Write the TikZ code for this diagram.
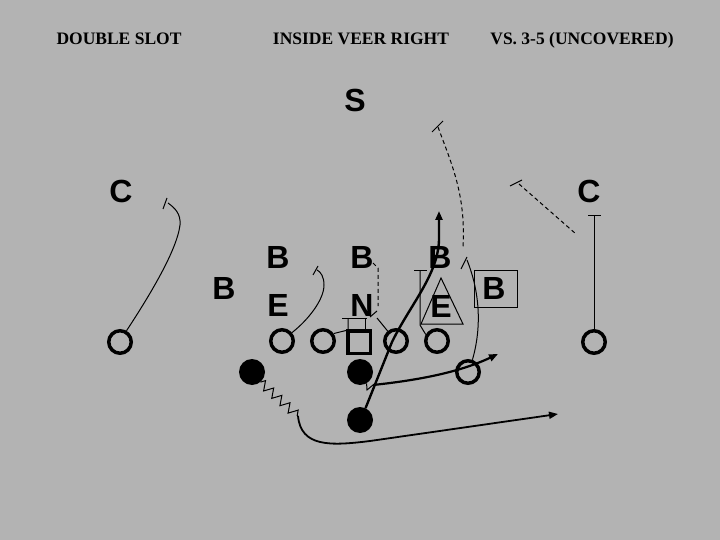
\documentclass[tikz,border=0pt]{standalone}
\usepackage{fontspec}
\setmainfont{Liberation Serif}
\newfontfamily\plfont{Liberation Sans}
\usetikzlibrary{arrows.meta,decorations.pathmorphing}
\definecolor{bg}{RGB}{179,179,179}
\begin{document}
\begin{tikzpicture}[x=1pt,y=-1pt,
 title/.style={font=\fontsize{17.5}{18}\selectfont\bfseries, inner sep=0, anchor=base},
 pl/.style={font=\plfont\bfseries\fontsize{32}{32}\selectfont, inner sep=0},
 ocirc/.style={circle,draw,line width=3.5pt,minimum size=22.5pt,inner sep=0},
 osq/.style={rectangle,draw,line width=3.5pt,minimum size=22.5pt,inner sep=0},
 bk/.style={circle,fill=black,minimum size=26pt,inner sep=0},
 rt/.style={line width=1pt},
 dsh/.style={line width=1pt,dash pattern=on 4pt off 3pt},
 run/.style={line width=2.4pt},
 tip/.style={-{Triangle[length=9pt,width=7pt]}},
 zig/.style={line width=1pt,decorate,decoration={zigzag,segment length=11pt,amplitude=4.5pt}}
]
\useasboundingbox[fill=bg] (0,0) rectangle (720,540);
% titles
\node[title] (t1) at (119,45) {DOUBLE SLOT};
\node[title] (t2) at (361,45) {INSIDE VEER RIGHT};
\node[title] (t3) at (582,45) {VS. 3-5 (UNCOVERED)};
% defense
\node[pl] (S) at (355,100) {S};
\node[pl] (CL) at (121,191) {C};
\node[pl] (CR) at (589,191) {C};
\node[pl] (BL) at (224,288) {B};
\node[pl] (B1) at (278,257) {B};
\node[pl] (E1) at (278,305) {E};
\node[pl] (B2) at (362,257) {B};
\node[pl] (N) at (362,305) {N};
\node[pl] (B3) at (440,257) {B};
\node[pl] (E2) at (441,306) {E};
\node[draw,line width=1pt,minimum width=43pt,minimum height=37pt,inner sep=0] (box) at (495.5,288.5) {};
\node[pl] (B4) at (494,288) {B};
\draw[rt] (441,278) -- (421,324) -- (463,324) -- cycle;
% offense
\node[ocirc] (SEL) at (120,342) {};
\node[ocirc] (LT) at (282,341) {};
\node[ocirc] (LG) at (323,341) {};
\node[osq] (Cn) at (359,342) {};
\node[ocirc] (RG) at (396,341) {};
\node[ocirc] (RT) at (437,341) {};
\node[ocirc] (SER) at (594,342) {};
\node[ocirc] (SR) at (468,372) {};
\node[bk] (HB) at (252,372) {};
\node[bk] (QB) at (360,372) {};
\node[bk] (FB) at (360,420) {};
% coordinates
\coordinate (e1) at (168,203);
\coordinate (e2) at (317,270);
\coordinate (e3) at (348,318);
\coordinate (e4) at (377,318);
\coordinate (e5) at (420,270);
\coordinate (e6) at (467,260);
\coordinate (e7) at (594,216);
\coordinate (s1) at (438,127);
\coordinate (s2) at (463,248);
\coordinate (c1) at (519,184);
\coordinate (c2) at (576,234);
\coordinate (b1) at (373,263);
\coordinate (b2) at (378,306);
\coordinate (f1) at (439,211);
\coordinate (q1) at (373,385);
\coordinate (q2) at (498,354);
\coordinate (h1) at (298,416);
\coordinate (h2) at (558,414);
% split end left
\draw[rt] (SEL.60) .. controls (150,295) and (177,250) .. (180,225) .. controls (181,214) and (175,208) .. (e1);
\draw[rt] (163,209) -- (167,198);
% left tackle
\draw[rt] (LT.40) .. controls (308,320) and (324,300) .. (324,285) .. controls (324,277) and (321,272) .. (e2);
\draw[rt] (313,275) -- (318,266);
% guard + center double team
\draw[rt] (LG.35) -- (348,330) -- (e3);
\draw[rt] ([xshift=6pt]Cn.north) -- (365,318);
\draw[rt] (342,318) -- (367,318);
% right guard
\draw[rt] (RG.130) -- (e4);
\draw[rt] (370,317) -- (377,311);
% B2 dashed
\draw[dsh] (b1) -- (378,268) -- (b2);
% right tackle
\draw[rt] (RT.150) -- (420,325) -- (e5);
\draw[rt] (414,270) -- (427,270);
% slot route
\draw[rt] (SR.70) .. controls (481,330) and (481,295) .. (e6);
\draw[rt] (461,269) -- (467,257);
% safety dashed
\draw[rt] (432,132) -- (443,121);
\draw[dsh] (s1) .. controls (452,165) and (466,195) .. (s2);
% corner dashed
\draw[rt] (510,186) -- (522,180);
\draw[dsh] (c1) -- (c2);
% split end right
\draw[rt] (SER.north) -- (e7);
\draw[rt] (588,216) -- (601,216);
% fullback dive
\draw[run,tip] (FB.65) -- (392,342) .. controls (410,305) and (438,275) .. (439,240) -- (f1);
% QB
\draw[rt] (QB.-60) -- (367,390) -- (q1);
\draw[line width=2.2pt,tip] (q1) .. controls (420,380) and (460,372) .. (q2);
% halfback
\draw[zig] (HB.-50) -- (h1);
\draw[line width=1.8pt,tip] (h1) .. controls (301,447) and (330,446) .. (370,441) -- (h2);
\end{tikzpicture}
\end{document}
